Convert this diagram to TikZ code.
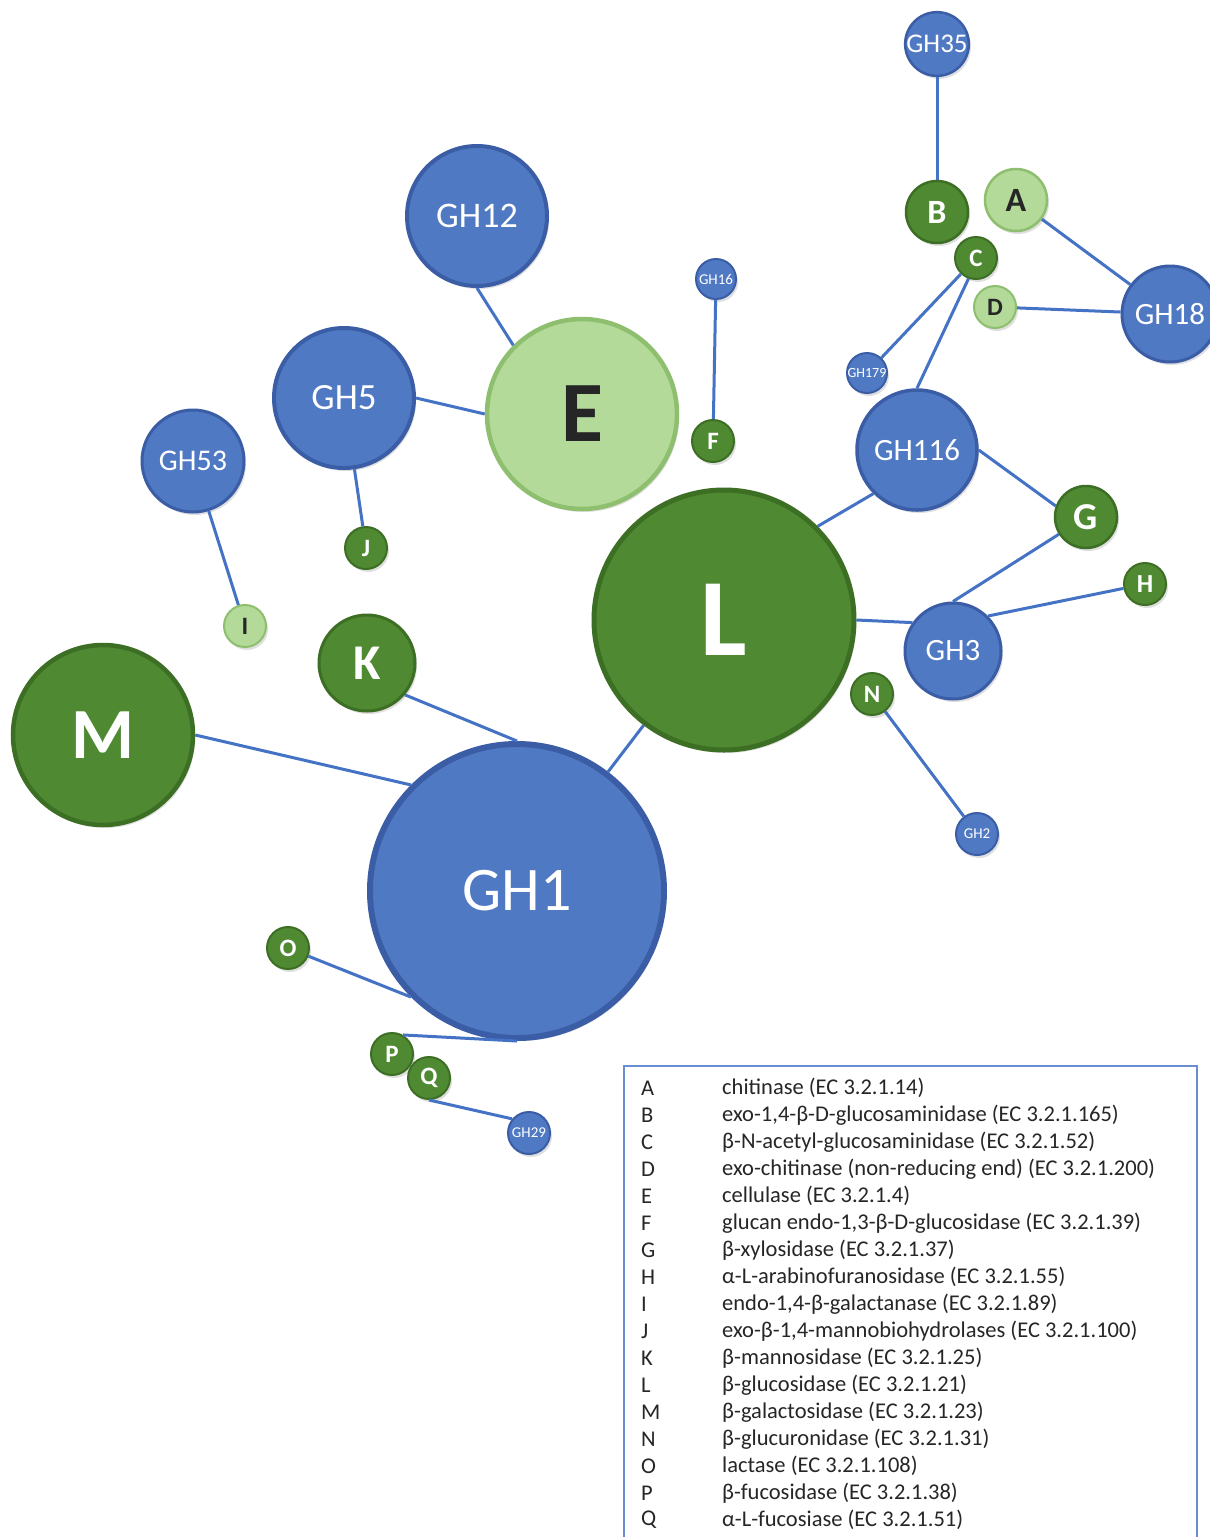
\documentclass[tikz,border=0pt]{standalone}
\usepackage{fontspec}
\setmainfont{Carlito}
\usetikzlibrary{shadows}
\definecolor{gbl}{HTML}{5079C4}
\definecolor{gbldk}{HTML}{3A5DA6}
\definecolor{dgr}{HTML}{4F8A33}
\definecolor{dgrdk}{HTML}{3C6E24}
\definecolor{lgr}{HTML}{B3DA98}
\definecolor{lgrdk}{HTML}{8DBF6E}
\definecolor{edgec}{HTML}{4472C4}
\newcommand\fs[1]{\fontsize{#1}{#1}\selectfont}
\tikzset{
  bub/.style={circle, inner sep=0pt, drop shadow={opacity=0.25, shadow xshift=2pt, shadow yshift=-3pt}},
  bnode/.style={bub, fill=gbl, draw=gbldk, text=white},
  gnode/.style={bub, fill=dgr, draw=dgrdk, text=white, font=\bfseries},
  lnode/.style={bub, fill=lgr, draw=lgrdk, text=black!85},
  link/.style={draw=edgec, line width=3pt},
  legtxt/.style={anchor=west, inner sep=0pt, font=\fs{22.5}, text=black!85}
}
\begin{document}
\begin{tikzpicture}[x=1pt, y=-1pt]
\useasboundingbox (0,0) rectangle (1210,1537);
\clip (0,0) rectangle (1210,1537);
\fill[white] (0,0) rectangle (1210,1537);

% nodes
\node[bnode, minimum size=62pt, line width=2.5pt, font=\fs{27}] (GH35) at (937,44) {GH35};
\node[gnode, minimum size=62pt, line width=2.5pt, font=\fs{34}\bfseries] (B) at (937,212) {B};
\node[lnode, minimum size=62pt, line width=2.5pt, font=\fs{34}\bfseries] (A) at (1016,200) {A};
\node[gnode, minimum size=42pt, line width=2pt, font=\fs{25}\bfseries] (C) at (976,258) {C};
\node[lnode, minimum size=42pt, line width=2pt, font=\fs{25}\bfseries] (D) at (995,307) {D};
\node[bnode, minimum size=96pt, line width=3pt, font=\fs{31}] (GH18) at (1170,314) {GH18};
\node[bnode, minimum size=40pt, line width=2pt, font=\fs{14}] (GH179) at (867,373) {GH179};
\node[bnode, minimum size=120pt, line width=3.5pt, font=\fs{31}] (GH116) at (917,450) {GH116};
\node[bnode, minimum size=40pt, line width=2pt, font=\fs{15}] (GH16) at (716,279) {GH16};
\node[gnode, minimum size=42pt, line width=2pt, font=\fs{25}\bfseries] (F) at (713,441) {F};
\node[bnode, minimum size=140pt, line width=4pt, font=\fs{36}] (GH12) at (477,216) {GH12};
\node[lnode, minimum size=190pt, line width=4.5pt, font=\fs{86}\bfseries] (E) at (582,414) {E};
\node[bnode, minimum size=140pt, line width=4pt, font=\fs{37}] (GH5) at (344,398) {GH5};
\node[bnode, minimum size=102pt, line width=3pt, font=\fs{30}] (GH53) at (193,461) {GH53};
\node[gnode, minimum size=42pt, line width=2pt, font=\fs{25}\bfseries] (J) at (366,548) {J};
\node[lnode, minimum size=42pt, line width=2pt, font=\fs{25}\bfseries] (I) at (245,626) {I};
\node[gnode, minimum size=96pt, line width=3pt, font=\fs{50}\bfseries] (K) at (367,663) {K};
\node[gnode, minimum size=180pt, line width=4.5pt, font=\fs{72}\bfseries] (M) at (103,735) {M};
\node[gnode, minimum size=260pt, line width=5pt, font=\fs{110}\bfseries] (L) at (724,620) {L};
\node[gnode, minimum size=62pt, line width=2.5pt, font=\fs{38}\bfseries] (G) at (1086,517) {G};
\node[gnode, minimum size=42pt, line width=2pt, font=\fs{26}\bfseries] (H) at (1145,584) {H};
\node[bnode, minimum size=96pt, line width=3pt, font=\fs{31}] (GH3) at (953,651) {GH3};
\node[gnode, minimum size=42pt, line width=2pt, font=\fs{25}\bfseries] (N) at (872,694) {N};
\node[bnode, minimum size=42pt, line width=2pt, font=\fs{15}] (GH2) at (977,834) {GH2};
\node[bnode, minimum size=294pt, line width=6pt, font=\fs{62}] (GH1) at (517,891) {GH1};
\node[gnode, minimum size=42pt, line width=2pt, font=\fs{25}\bfseries] (O) at (288,948) {O};
\node[gnode, minimum size=42pt, line width=2pt, font=\fs{25}\bfseries] (P) at (392,1054) {P};
\node[gnode, minimum size=42pt, line width=2pt, font=\fs{25}\bfseries] (Q) at (429,1078) {Q};
\node[bnode, minimum size=42pt, line width=2pt, font=\fs{15}] (GH29) at (529,1133) {GH29};

% connectors
\draw[link] (GH35) -- (B);
\draw[link] (A) -- (GH18);
\draw[link] (D) -- (GH18);
\draw[link] (C) -- (GH179);
\draw[link] (C.250) -- (GH116.north);
\draw[link] (GH12.south) -- (E.135);
\draw[link] (GH5.east) -- (E.west);
\draw[link] (GH16) -- (F);
\draw[link] (GH53) -- (I);
\draw[link] (GH5) -- (J);
\draw[link] (GH116.225) -- (L.45);
\draw[link] (GH116.east) -- (G.160);
\draw[link] (G) -- (GH3.north);
\draw[link] (H) -- (GH3.45);
\draw[link] (L.east) -- (GH3.145);
\draw[link] (N) -- (GH2);
\draw[link] (K.-40) -- (GH1.north);
\draw[link] (M.east) -- (GH1.135);
\draw[link] (L) -- (GH1);
\draw[link] (O) -- (GH1.225);
\draw[link] (P.60) -- (GH1.south);
\draw[link] (Q.south) -- (GH29.140);

% legend
\draw[edgec!80, line width=1.2pt] (624,1066) rectangle (1197,1560);
\node[legtxt] (lA) at (641,1088) {A};  \node[legtxt] (dA) at (722,1088) {chitinase (EC 3.2.1.14)};
\node[legtxt] (lB) at (641,1115) {B};  \node[legtxt] (dB) at (722,1115) {exo-1,4-β-D-glucosaminidase (EC 3.2.1.165)};
\node[legtxt] (lC) at (641,1142) {C};  \node[legtxt] (dC) at (722,1142) {β-N-acetyl-glucosaminidase (EC 3.2.1.52)};
\node[legtxt] (lD) at (641,1169) {D};  \node[legtxt] (dD) at (722,1169) {exo-chitinase (non-reducing end) (EC 3.2.1.200)};
\node[legtxt] (lE) at (641,1196) {E};  \node[legtxt] (dE) at (722,1196) {cellulase (EC 3.2.1.4)};
\node[legtxt] (lF) at (641,1223) {F};  \node[legtxt] (dF) at (722,1223) {glucan endo-1,3-β-D-glucosidase (EC 3.2.1.39)};
\node[legtxt] (lG) at (641,1250) {G};  \node[legtxt] (dG) at (722,1250) {β-xylosidase (EC 3.2.1.37)};
\node[legtxt] (lH) at (641,1277) {H};  \node[legtxt] (dH) at (722,1277) {α-L-arabinofuranosidase (EC 3.2.1.55)};
\node[legtxt] (lI) at (641,1304) {I};  \node[legtxt] (dI) at (722,1304) {endo-1,4-β-galactanase (EC 3.2.1.89)};
\node[legtxt] (lJ) at (641,1331) {J};  \node[legtxt] (dJ) at (722,1331) {exo-β-1,4-mannobiohydrolases (EC 3.2.1.100)};
\node[legtxt] (lK) at (641,1358) {K};  \node[legtxt] (dK) at (722,1358) {β-mannosidase (EC 3.2.1.25)};
\node[legtxt] (lL) at (641,1385) {L};  \node[legtxt] (dL) at (722,1385) {β-glucosidase (EC 3.2.1.21)};
\node[legtxt] (lM) at (641,1412) {M};  \node[legtxt] (dM) at (722,1412) {β-galactosidase (EC 3.2.1.23)};
\node[legtxt] (lN) at (641,1439) {N};  \node[legtxt] (dN) at (722,1439) {β-glucuronidase (EC 3.2.1.31)};
\node[legtxt] (lO) at (641,1466) {O};  \node[legtxt] (dO) at (722,1466) {lactase (EC 3.2.1.108)};
\node[legtxt] (lP) at (641,1493) {P};  \node[legtxt] (dP) at (722,1493) {β-fucosidase (EC 3.2.1.38)};
\node[legtxt] (lQ) at (641,1520) {Q};  \node[legtxt] (dQ) at (722,1520) {α-L-fucosiase (EC 3.2.1.51)};
\end{tikzpicture}
\end{document}
